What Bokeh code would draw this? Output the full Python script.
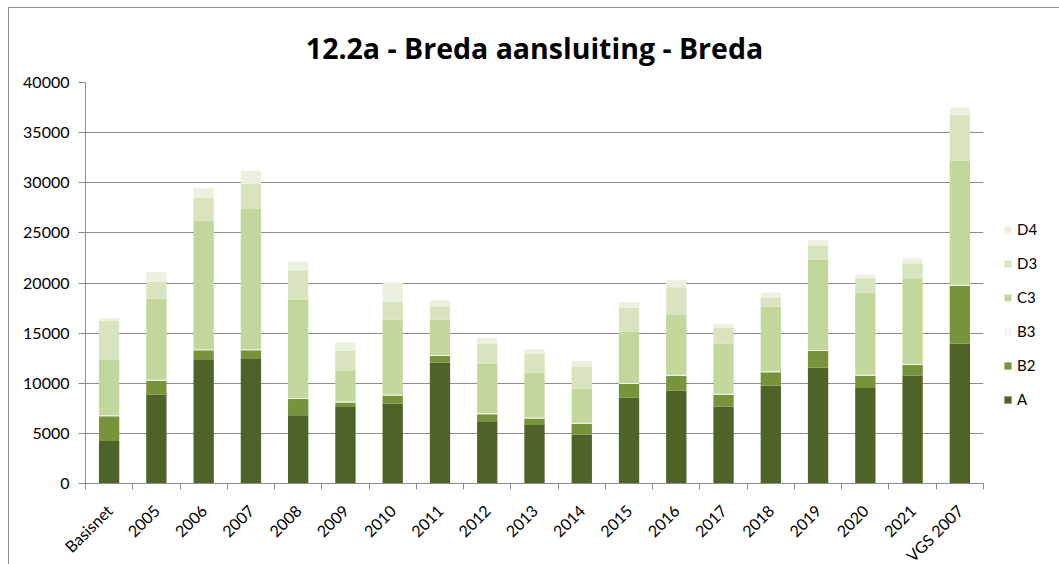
import math
from bokeh.plotting import figure
from bokeh.models import (ColumnDataSource, Range1d, FixedTicker, Legend, LegendItem)
from bokeh.embed import file_html
from bokeh.resources import INLINE

categories = ["Basisnet", "2005", "2006", "2007", "2008", "2009", "2010", "2011", "2012",
              "2013", "2014", "2015", "2016", "2017", "2018", "2019", "2020", "2021", "VGS 2007"]
A  = [4250, 8860, 12400, 12500, 6800, 7630, 7990, 12040, 6140, 5840, 4900, 8590, 9250, 7660, 9780, 11540, 9520, 10780, 13930]
B2 = [2450, 1400, 880, 780, 1640, 440, 780, 680, 780, 640, 1050, 1340, 1500, 1200, 1310, 1670, 1240, 1040, 5800]
B3 = [100, 100, 100, 100, 100, 100, 100, 100, 100, 100, 100, 100, 100, 100, 100, 100, 100, 100, 100]
C3 = [5600, 8060, 12830, 13990, 9780, 3050, 7460, 3510, 4935, 4480, 3415, 5070, 5970, 4975, 6430, 9025, 8200, 8560, 12400]
D3 = [3810, 1690, 2320, 2560, 2960, 2020, 1830, 1360, 1960, 1860, 2230, 2420, 2760, 1590, 900, 1350, 1420, 1490, 4550]
D4 = [270, 965, 960, 1260, 870, 835, 1890, 600, 630, 470, 530, 570, 700, 400, 540, 570, 400, 500, 730]

series = ["A", "B2", "B3", "C3", "D3", "D4"]
colors = ["#4F6228", "#77933C", "#F1F5EA", "#C3D69B", "#D7E4BD", "#EBF1DE"]
title_text = "12.2a - Breda aansluiting - Breda"

xpos = list(range(1, len(categories) + 1))
source = ColumnDataSource(dict(x=xpos, A=A, B2=B2, B3=B3, C3=C3, D3=D3, D4=D4))

FW, FH = 898, 401
p = figure(frame_width=FW, frame_height=FH, output_backend="svg", toolbar_location=None,
           x_range=Range1d(0.5, len(categories) + 0.5), y_range=Range1d(0, 40000),
           min_border_left=76, min_border_right=10, min_border_top=74, min_border_bottom=70,
           title=title_text)
p.styles = {"border-left": "1px solid #8c8c8c", "border-top": "1px solid #8c8c8c",
            "margin-left": "8px", "margin-top": "7px"}
p.outline_line_color = None
p.background_fill_color = "white"
p.border_fill_color = "white"

renderers = p.vbar_stack(series, x="x", width=0.43, source=source, color=colors, line_color=None)

FONT = "Lato"
p.title.align = "center"
p.title.text_font = "Open Sans"
p.title.text_font_style = "bold"
p.title.text_font_size = "28.5px"
p.title.text_color = "#000000"
p.title.standoff = 32

# y axis
p.yaxis.ticker = FixedTicker(ticks=[0, 5000, 10000, 15000, 20000, 25000, 30000, 35000, 40000])
p.yaxis.axis_line_color = "#8c8c8c"
p.yaxis.major_tick_line_color = "#8c8c8c"
p.yaxis.major_tick_out = 7
p.yaxis.major_tick_in = 0
p.yaxis.minor_tick_line_color = None
p.yaxis.major_label_standoff = 9
p.yaxis.major_label_text_font = FONT
p.yaxis.major_label_text_font_size = "16px"
p.yaxis.major_label_text_color = "#000000"

# x axis
p.xaxis.ticker = FixedTicker(ticks=xpos, minor_ticks=[i + 0.5 for i in range(0, len(categories) + 1)])
p.xaxis.major_label_overrides = {x: c for x, c in zip(xpos, categories)}
p.xaxis.major_label_orientation = math.pi / 4
p.xaxis.axis_line_color = "#8c8c8c"
p.xaxis.major_tick_line_color = None
p.xaxis.major_tick_out = 0
p.xaxis.major_tick_in = 0
p.xaxis.minor_tick_line_color = "#8c8c8c"
p.xaxis.minor_tick_out = 6
p.xaxis.minor_tick_in = 0
p.xaxis.major_label_standoff = 18
p.xaxis.major_label_text_font = FONT
p.xaxis.major_label_text_font_size = "16px"
p.xaxis.major_label_text_color = "#000000"

p.xgrid.grid_line_color = None
p.ygrid.ticker = FixedTicker(ticks=[5000, 10000, 15000, 20000, 25000, 30000, 35000, 40000])
p.ygrid.grid_line_color = "#8c8c8c"
p.ygrid.grid_line_width = 1

items = [LegendItem(label=s, renderers=[r]) for s, r in zip(series, renderers)][::-1]
legend = Legend(items=items, location=(20, 75), orientation="vertical",
                glyph_width=9, glyph_height=9, label_height=14, label_standoff=5,
                spacing=16, padding=0, margin=0, border_line_color=None,
                background_fill_alpha=0, label_text_font=FONT,
                label_text_font_size="15px", label_text_color="#000000")
p.add_layout(legend, "right")

open("out.html", "w").write(file_html(p, INLINE))
